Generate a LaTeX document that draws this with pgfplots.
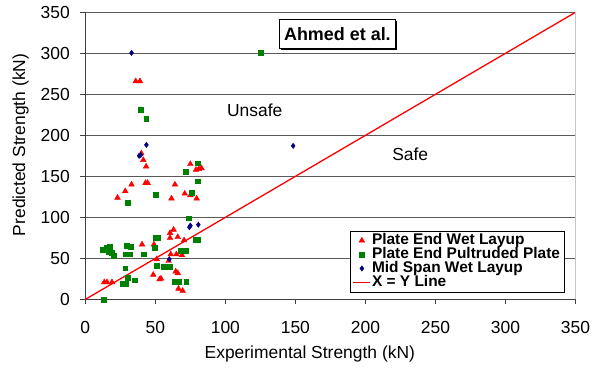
\documentclass[border=0pt]{standalone}
\usepackage{fontspec}
\setmainfont{Liberation Sans}
\usepackage{pgfplots}
\pgfplotsset{compat=1.18}
\usetikzlibrary{shadows}
\definecolor{mred}{RGB}{255,0,0}
\definecolor{mgreen}{RGB}{0,128,0}
\definecolor{mblue}{RGB}{0,0,128}
\definecolor{gridc}{RGB}{90,90,90}
\definecolor{axc}{RGB}{64,64,64}
\begin{document}
\begin{tikzpicture}
\begin{axis}[
  scale only axis, width=490bp, height=287bp,
  xmin=0, xmax=350, ymin=0, ymax=350,
  xtick={0,50,...,350}, ytick={0,50,...,350},
  axis x line*=bottom, axis y line*=left,
  axis line style={-, draw=axc, line width=0.9bp},
  tick align=outside, major tick length=5bp,
  tick style={draw=axc, line width=0.8bp},
  ymajorgrids, grid style={draw=gridc, line width=0.8bp},
  /pgf/number format/assume math mode=true,
  ticklabel style={font=\fontsize{17.5}{20}\selectfont},
  xticklabel style={yshift=-13bp},
  yticklabel style={xshift=-7bp},
  label style={font=\fontsize{17.5}{20}\selectfont},
  xlabel={Experimental Strength (kN)},
  ylabel={Predicted Strength (kN)},
  x label style={at={(axis description cs:0.458,0)}, anchor=base, yshift=-58.7bp},
  y label style={at={(axis description cs:-0.123,0.538)}, anchor=base},
  clip=false,
  legend cell align=left,
  legend style={at={(rel axis cs:0.977,0.025)}, anchor=south east,
    inner xsep=3bp, inner ysep=2.5bp,
    font=\fontsize{15.5}{15}\bfseries, row sep=0bp,
    nodes={inner ysep=0bp, inner xsep=1bp, text height=10.5bp, text depth=3.5bp}},
]
\addplot[only marks, mark=triangle*, mark size=3.3bp, color=mred, mark options={fill=mred, draw=mred}] coordinates {
(36,266) (39,266)
(40,178) (41.4,170) (43.4,162)
(75,165) (79,158) (81,159) (83,160)
(33,140) (43,142) (44.5,142) (64,140)
(28.5,132) (71,129) (75,127) (23,124) (61.5,123) (79.5,123)
(63,85) (60.5,81) (60.5,75) (66,76) (70.5,72)
(40.5,67) (49,67) (61,55) (65,55) (69,54)
(51,49) (59.5,47) (64.5,34) (66,32) (48.5,30) (54,25.5) (53,24.5)
(13.5,21) (15.5,21) (19,21) (66.5,13) (69.5,10.5)
};
\addlegendentry{Plate End Wet Layup}
\addplot[only marks, mark=square*, mark size=2.4bp, color=mgreen, mark options={fill=mgreen, draw=mgreen}] coordinates {
(125.5,301) (39.5,231) (43.5,220.5) (80,166) (71.5,156) (80.5,144)
(50.5,128) (76,130) (30.5,118) (74,99)
(50.5,75) (52,75) (78.5,73) (80,73) (29.8,65.5) (32.4,64) (49.3,63.5)
(12.4,61) (15.3,63.5) (17.6,64.2) (16.7,58) (19,57) (20.5,53)
(68,59.5) (71.5,59.5) (41.5,55) (29,55) (31.5,55)
(51,41.5) (56,39.5) (60,39.5) (28.5,38) (30.5,26) (35,23.5)
(64,21.5) (67,21.5) (72,21.5) (26.7,18.7) (28.6,18.7) (13,0)
};
\addlegendentry{Plate End Pultruded Plate}
\addplot[only marks, mark=diamond*, mark size=2.7bp, color=mblue, mark options={fill=mblue, draw=mblue}] coordinates {
(33,300.5) (43.6,188.4) (38.4,175) (39.5,176) (148.4,187.2) (75,90) (74.3,88) (80.7,91) (60,49)
};
\addlegendentry{Mid Span Wet Layup}
\addplot[draw=mred, line width=1.3bp, no marks] coordinates {(0,0) (350,350)};
\addlegendentry{X = Y Line}
\draw[draw=gray!45, line width=0.8bp] (rel axis cs:1,0) -- (rel axis cs:1,1);
\node[font=\fontsize{17.5}{20}\selectfont] at (axis cs:121,230) {Unsafe};
\node[font=\fontsize{17.5}{20}\selectfont] at (axis cs:232,177) {Safe};
\node[font=\fontsize{18}{20}\bfseries, draw=black, fill=white, line width=0.8bp, inner xsep=4.5bp, inner ysep=8bp,
  drop shadow={shadow xshift=1.8bp, shadow yshift=-1.8bp, fill=black, opacity=1}] at (axis cs:180,324) {Ahmed et al.};
\coordinate (ll) at (rel axis cs:0,0);
\coordinate (ur) at (rel axis cs:1,1);
\end{axis}
\path (ll) ++(-85.3bp,-68.7bp) coordinate (a);
\path (ur) ++(23.5bp,12.3bp) coordinate (b);
\path (a) rectangle (b);
\end{tikzpicture}
\end{document}
